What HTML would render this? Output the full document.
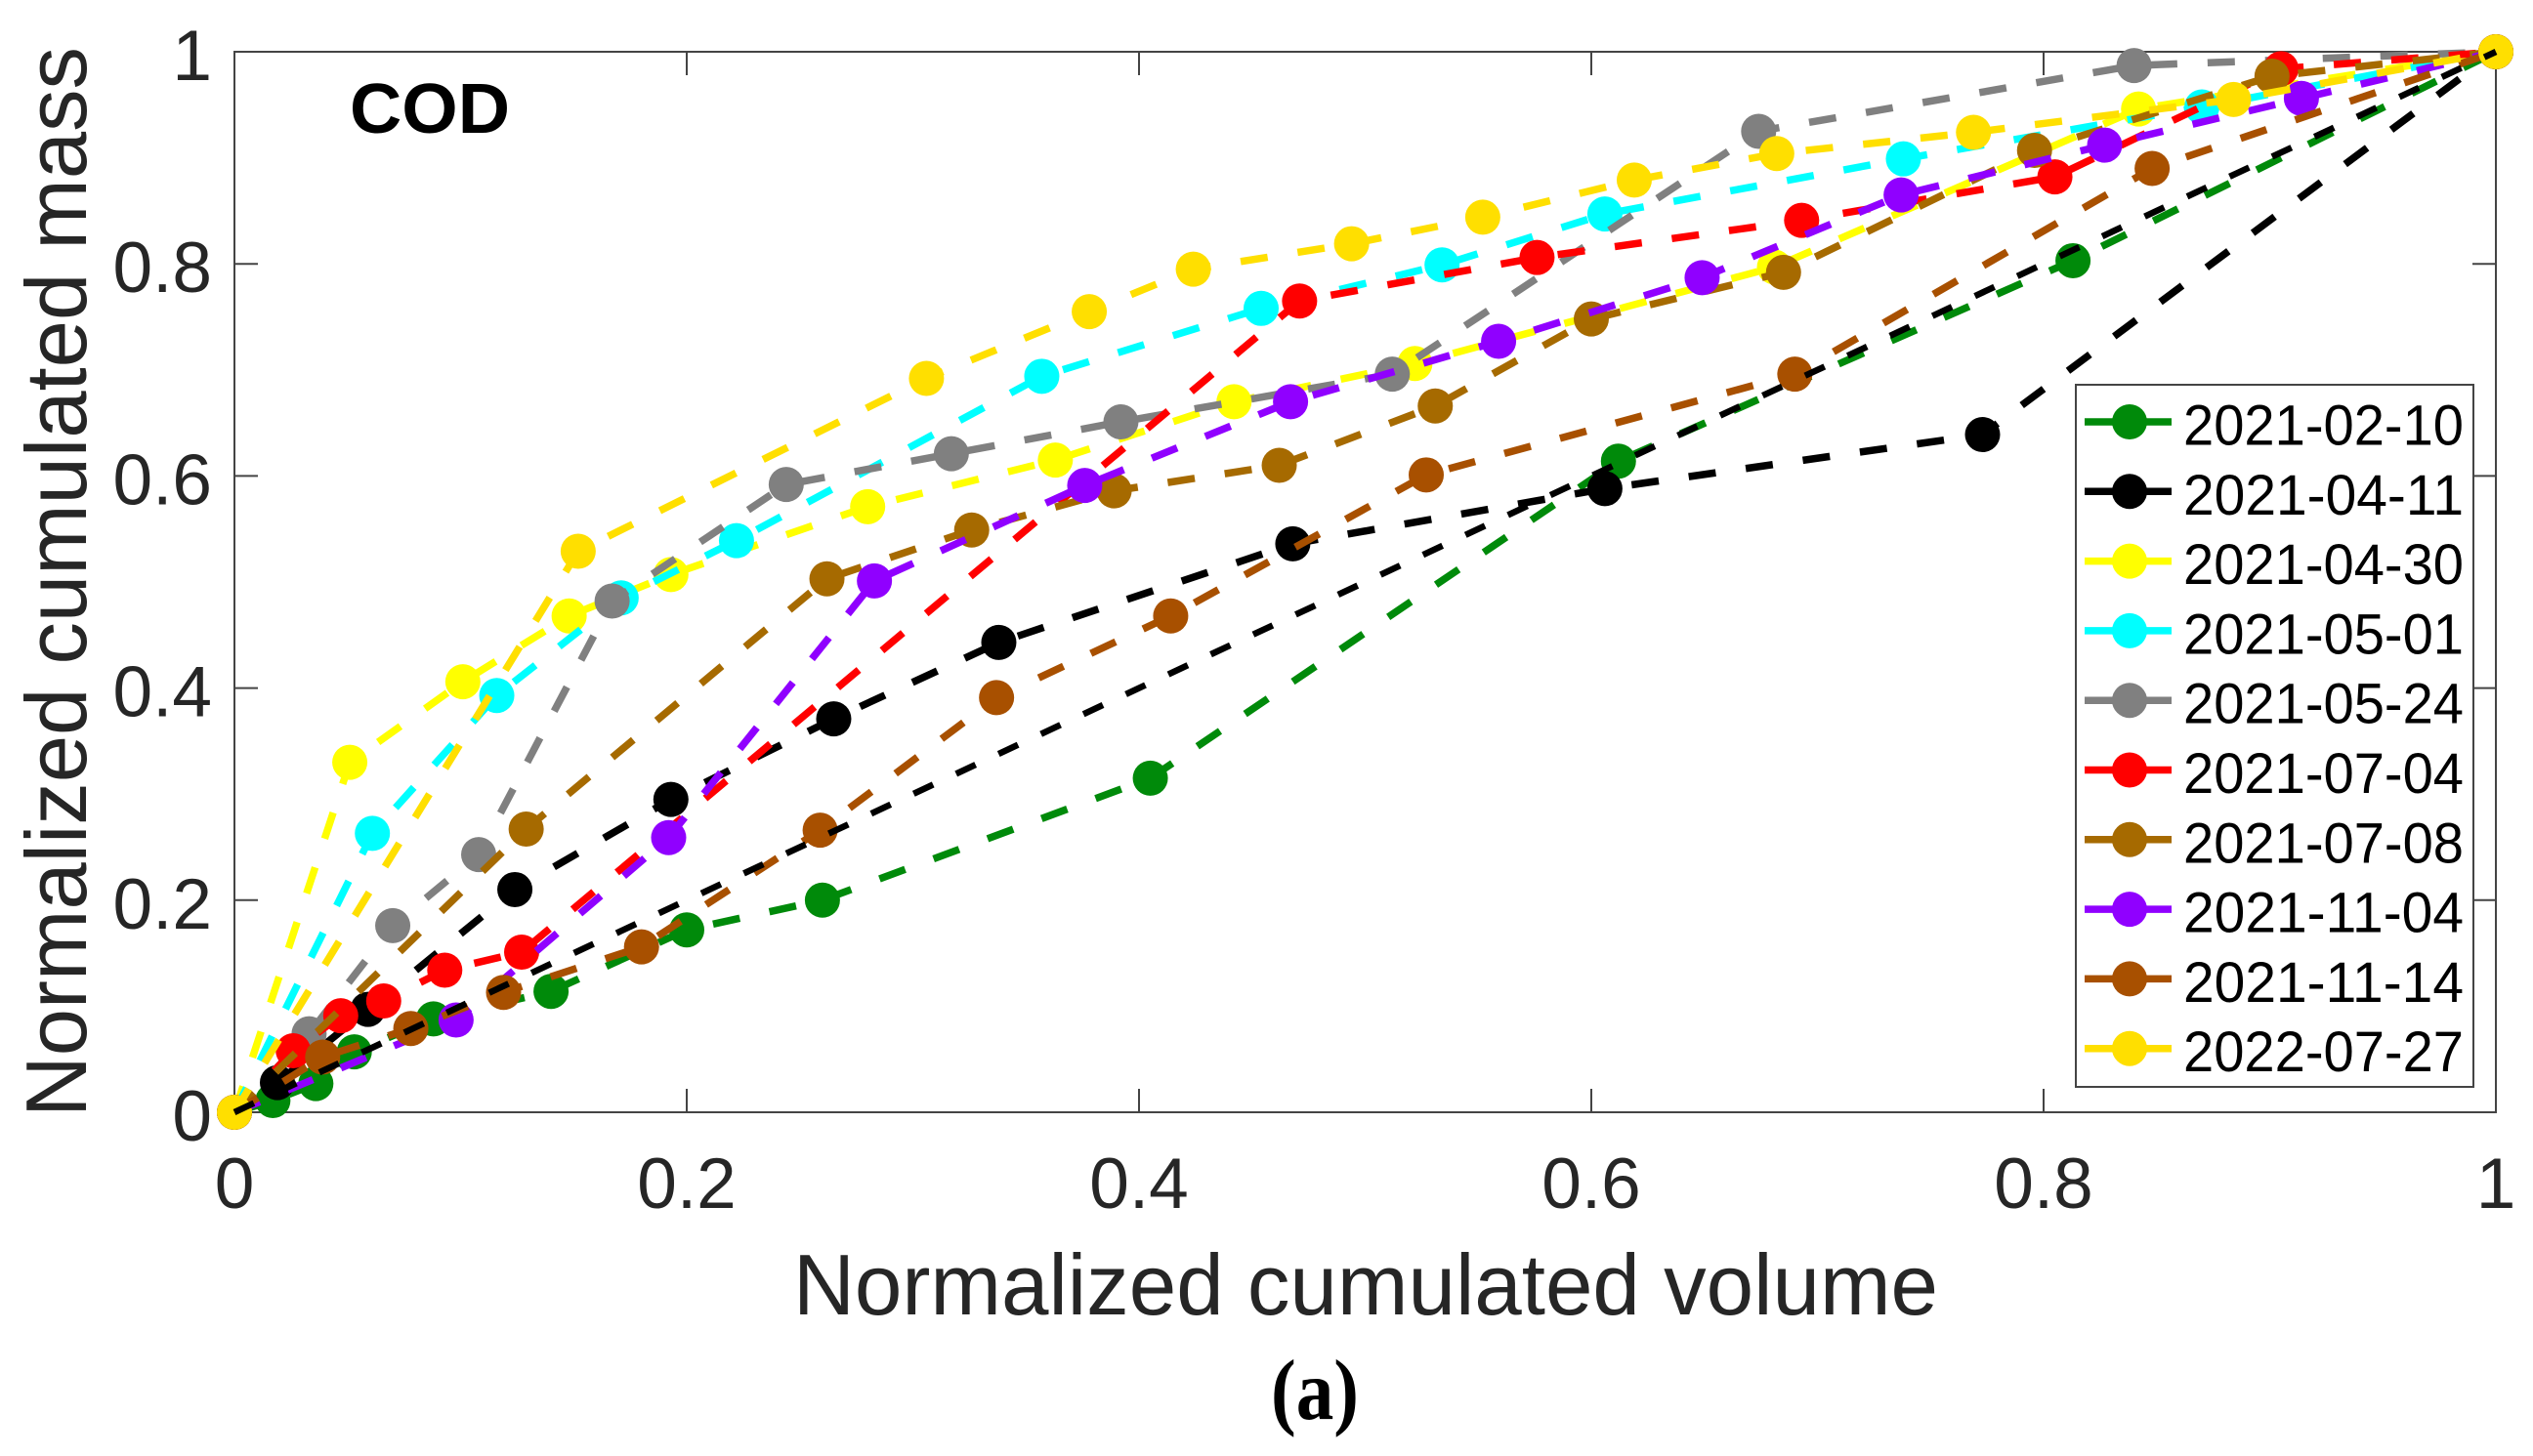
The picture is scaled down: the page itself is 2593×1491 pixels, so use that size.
<!DOCTYPE html>
<html lang="en">
<head>
<meta charset="utf-8">
<title>Normalized cumulated mass vs volume — COD</title>
<style>
html,body{margin:0;padding:0;background:#fff;}
body{width:2593px;height:1491px;overflow:hidden;}
svg{display:block;font-family:"Liberation Sans",Arial,sans-serif;}
</style>
</head>
<body>
<svg id="chart" xmlns="http://www.w3.org/2000/svg" width="2593" height="1491" viewBox="0 0 2593 1491">
  <rect x="0" y="0" width="2593" height="1491" fill="#fff"/>
  <g id="axes"></g>
  <g id="series"></g>
  <g id="legend"></g>
  <text x="358" y="136" font-size="72" font-weight="bold" fill="#000" textLength="164" lengthAdjust="spacingAndGlyphs">COD</text>
  <text x="812" y="1346" font-size="88" fill="#262626" textLength="1172" lengthAdjust="spacingAndGlyphs">Normalized cumulated volume</text>
  <text transform="translate(88 1144) rotate(-90)" x="0" y="0" font-size="88" fill="#262626" textLength="1096" lengthAdjust="spacingAndGlyphs">Normalized cumulated mass</text>
  <text x="1301" y="1453" font-family="'Liberation Serif',serif" font-size="88" font-weight="bold" fill="#000" textLength="90" lengthAdjust="spacingAndGlyphs">(a)</text>
</svg>
<script>
const dates = ['2021-02-10','2021-04-11','2021-04-30','2021-05-01','2021-05-24','2021-07-04','2021-07-08','2021-11-04','2021-11-14','2022-07-27'];
const xTicks = [0,0.2,0.4,0.6,0.8,1];
const yTicks = [0,0.2,0.4,0.6,0.8,1];
const xTickLabels = ['0','0.2','0.4','0.6','0.8','1'];
const yTickLabels = ['0','0.2','0.4','0.6','0.8','1'];

const volume20210210 = [0,.017,.036,.053,.088,.140,.200,.260,.405,.612,.813,1];
const mass20210210   = [0,.011,.027,.057,.088,.114,.172,.200,.315,.614,.803,1];
const volume20210411 = [0,.019,.059,.124,.193,.265,.338,.468,.606,.773,1];
const mass20210411   = [0,.028,.097,.210,.295,.371,.443,.536,.588,.639,1];
const volume20210430 = [0,.051,.101,.148,.193,.280,.363,.442,.522,.681,.842,1];
const mass20210430   = [0,.330,.406,.468,.507,.571,.615,.670,.706,.797,.946,1];
const volume20210501 = [0,.061,.116,.171,.222,.357,.454,.534,.606,.738,.870,1];
const mass20210501   = [0,.263,.393,.485,.539,.694,.758,.799,.847,.899,.948,1];
const volume20210524 = [0,.033,.070,.108,.167,.244,.317,.392,.512,.674,.840,1];
const mass20210524   = [0,.074,.176,.243,.482,.592,.621,.651,.696,.925,.987,1];
const volume20210704 = [0,.026,.047,.066,.093,.127,.471,.576,.693,.805,.905,1];
const mass20210704   = [0,.058,.091,.105,.134,.151,.765,.806,.841,.882,.984,1];
const volume20210708 = [0,.129,.262,.326,.389,.462,.531,.600,.685,.796,.901,1];
const mass20210708   = [0,.267,.503,.549,.586,.610,.666,.748,.792,.907,.977,1];
const volume20211104 = [0,.098,.192,.283,.376,.467,.559,.649,.737,.827,.914,1];
const mass20211104   = [0,.087,.259,.501,.591,.670,.727,.787,.865,.912,.956,1];
const volume20211114 = [0,.039,.078,.119,.180,.259,.337,.414,.527,.690,.848,1];
const mass20211114   = [0,.052,.079,.113,.156,.266,.391,.468,.601,.696,.890,1];
const volume20220727 = [0,.152,.306,.378,.424,.494,.552,.619,.682,.769,.884,1];
const mass20220727   = [0,.529,.692,.755,.795,.819,.844,.879,.904,.924,.955,1];
const referenceVolume = [0,1];
const referenceMass = [0,1];

const seriesVolume = [volume20210210,volume20210411,volume20210430,volume20210501,volume20210524,volume20210704,volume20210708,volume20211104,volume20211114,volume20220727];
const seriesMass = [mass20210210,mass20210411,mass20210430,mass20210501,mass20210524,mass20210704,mass20210708,mass20211104,mass20211114,mass20220727];

const NS = 'http://www.w3.org/2000/svg';
const plot = {left:240,right:2555,top:53,bottom:1139};
const palette = ['#008a0a','#000000','#ffff00','#00ffff','#808080','#ff0000','#a66a00','#9000ff','#a85000','#ffdf00'];
const axisColor = '#444444';
function xScale(v){return plot.left + v*(plot.right-plot.left);}
function yScale(v){return plot.bottom - v*(plot.bottom-plot.top);}
function make(tag,attrs,parent){
  const el = document.createElementNS(NS,tag);
  for(const k in attrs){el.setAttribute(k,attrs[k]);}
  parent.appendChild(el);
  return el;
}

const axes = document.getElementById('axes');
const frame = make('rect',{x:plot.left,y:plot.top,width:plot.right-plot.left,height:plot.bottom-plot.top,fill:'none',stroke:axisColor,'stroke-width':2},axes);


xTicks.forEach(function(t,i){
  const x = xScale(t);
  const bottomTick = make('line',{x1:x,x2:x,y1:plot.bottom,y2:plot.bottom-24,stroke:axisColor,'stroke-width':2},axes);
  
  
  const topTick = make('line',{x1:x,x2:x,y1:plot.top,y2:plot.top+24,stroke:axisColor,'stroke-width':2},axes);
  
  
  const label = make('text',{x:x,y:1237,'text-anchor':'middle','font-size':73,fill:'#262626'},axes);
  
  
  label.textContent = xTickLabels[i];
});
yTicks.forEach(function(t,i){
  const y = yScale(t);
  const leftTick = make('line',{x1:plot.left,x2:plot.left+24,y1:y,y2:y,stroke:axisColor,'stroke-width':2},axes);
  
  
  const rightTick = make('line',{x1:plot.right,x2:plot.right-24,y1:y,y2:y,stroke:axisColor,'stroke-width':2},axes);
  
  
  const label = make('text',{x:217,y:y+29,'text-anchor':'end','font-size':73,fill:'#262626'},axes);
  
  
  label.textContent = yTickLabels[i];
});

const seriesGroup = document.getElementById('series');
function pointsOf(xs,ys){
  return xs.map(function(v,j){return xScale(v).toFixed(1)+','+yScale(ys[j]).toFixed(1);}).join(' ');
}
dates.forEach(function(d,i){
  const g = make('g',{},seriesGroup);
  
  
  const xs = seriesVolume[i];
  const ys = seriesMass[i];
  const line = make('polyline',{points:pointsOf(xs,ys),fill:'none',stroke:palette[i],'stroke-width':7.5,'stroke-dasharray':'28 31','stroke-linejoin':'round'},g);
  
  
  xs.forEach(function(v,j){
    const dot = make('circle',{cx:xScale(v),cy:yScale(ys[j]),r:18,fill:palette[i]},g);
    
    
  });
});
const refLine = make('polyline',{points:pointsOf(referenceVolume,referenceMass),fill:'none',stroke:'#000','stroke-width':6.5,'stroke-dasharray':'22 26'},seriesGroup);



const legend = document.getElementById('legend');
const legendBox = {left:2125,right:2532,top:394,bottom:1113};
const legendFirstRow = 432;
const legendRowStep = 71.3;
const box = make('rect',{x:legendBox.left,y:legendBox.top,width:legendBox.right-legendBox.left,height:legendBox.bottom-legendBox.top,fill:'#fff',stroke:axisColor,'stroke-width':2},legend);


dates.forEach(function(d,i){
  const y = legendFirstRow + i*legendRowStep;
  const entry = make('g',{},legend);
  
  
  const swatch = make('line',{x1:2134,x2:2223,y1:y,y2:y,stroke:palette[i],'stroke-width':7.5},entry);
  
  
  const marker = make('circle',{cx:2180,cy:y,r:18,fill:palette[i]},entry);
  
  
  const label = make('text',{x:2235,y:y+23.5,'font-size':58,fill:'#000',textLength:287,lengthAdjust:'spacingAndGlyphs'},entry);
  
  
  label.textContent = d;
});
</script>
</body>
</html>
